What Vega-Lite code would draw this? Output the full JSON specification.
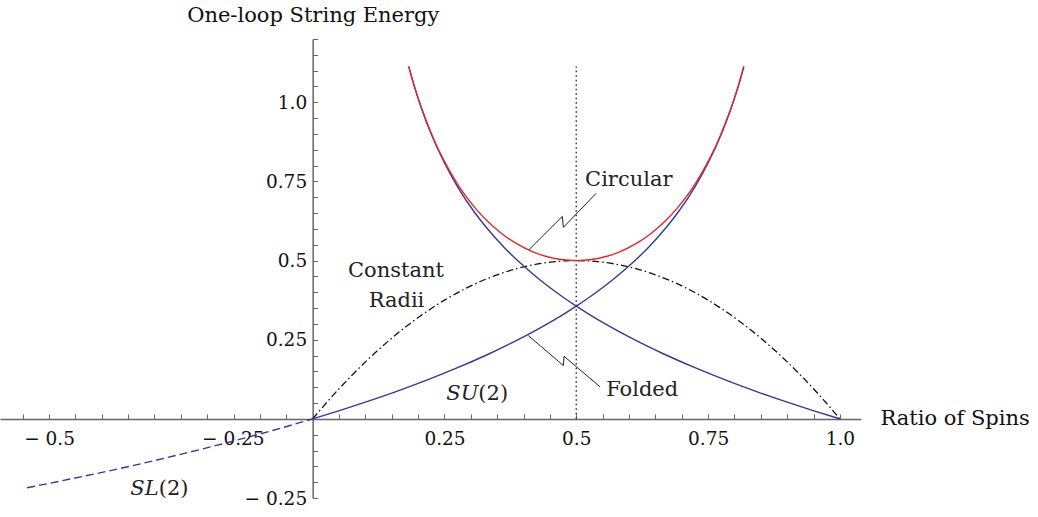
{
  "$schema": "https://vega.github.io/schema/vega-lite/v6.json",
  "width": 861,
  "height": 459,
  "autosize": {"type": "none"},
  "padding": {"left": 0, "top": 39, "right": 177, "bottom": 19},
  "background": "white",
  "config": {"view": {"stroke": null}},
  "datasets": {
    "folded": [
      {"branch": "a", "x": 0, "y": 0},
      {"branch": "a", "x": 0.0507, "y": 0.026},
      {"branch": "a", "x": 0.1028, "y": 0.0543},
      {"branch": "a", "x": 0.1567, "y": 0.0853},
      {"branch": "a", "x": 0.2127, "y": 0.1199},
      {"branch": "a", "x": 0.2715, "y": 0.1592},
      {"branch": "a", "x": 0.334, "y": 0.2049},
      {"branch": "a", "x": 0.3671, "y": 0.2311},
      {"branch": "a", "x": 0.4017, "y": 0.2603},
      {"branch": "a", "x": 0.4384, "y": 0.2936},
      {"branch": "a", "x": 0.4779, "y": 0.3326},
      {"branch": "a", "x": 0.5, "y": 0.356},
      {"branch": "a", "x": 0.5214, "y": 0.3801},
      {"branch": "a", "x": 0.5715, "y": 0.4425},
      {"branch": "a", "x": 0.6072, "y": 0.4937},
      {"branch": "a", "x": 0.6354, "y": 0.5393},
      {"branch": "a", "x": 0.6705, "y": 0.6045},
      {"branch": "a", "x": 0.6934, "y": 0.6534},
      {"branch": "a", "x": 0.7251, "y": 0.7331},
      {"branch": "a", "x": 0.7502, "y": 0.8092},
      {"branch": "a", "x": 0.7767, "y": 0.9064},
      {"branch": "a", "x": 0.793, "y": 0.9784},
      {"branch": "a", "x": 0.807, "y": 1.0497},
      {"branch": "a", "x": 0.8177, "y": 1.113},
      {"branch": "b", "x": 0.1823, "y": 1.113},
      {"branch": "b", "x": 0.193, "y": 1.0497},
      {"branch": "b", "x": 0.207, "y": 0.9784},
      {"branch": "b", "x": 0.2233, "y": 0.9064},
      {"branch": "b", "x": 0.2498, "y": 0.8092},
      {"branch": "b", "x": 0.2749, "y": 0.7331},
      {"branch": "b", "x": 0.3066, "y": 0.6534},
      {"branch": "b", "x": 0.3295, "y": 0.6045},
      {"branch": "b", "x": 0.3646, "y": 0.5393},
      {"branch": "b", "x": 0.3928, "y": 0.4937},
      {"branch": "b", "x": 0.4285, "y": 0.4425},
      {"branch": "b", "x": 0.4786, "y": 0.3801},
      {"branch": "b", "x": 0.5, "y": 0.356},
      {"branch": "b", "x": 0.5221, "y": 0.3326},
      {"branch": "b", "x": 0.5616, "y": 0.2936},
      {"branch": "b", "x": 0.5983, "y": 0.2603},
      {"branch": "b", "x": 0.6329, "y": 0.2311},
      {"branch": "b", "x": 0.666, "y": 0.2049},
      {"branch": "b", "x": 0.7285, "y": 0.1592},
      {"branch": "b", "x": 0.7873, "y": 0.1199},
      {"branch": "b", "x": 0.8433, "y": 0.0853},
      {"branch": "b", "x": 0.8972, "y": 0.0543},
      {"branch": "b", "x": 0.9493, "y": 0.026},
      {"branch": "b", "x": 1, "y": 0}
    ],
    "circular": [
      {"x": 0.1823, "y": 1.113},
      {"x": 0.1852, "y": 1.0944},
      {"x": 0.1988, "y": 1.0196},
      {"x": 0.2172, "y": 0.9336},
      {"x": 0.2328, "y": 0.8716},
      {"x": 0.2469, "y": 0.8229},
      {"x": 0.2724, "y": 0.748},
      {"x": 0.2844, "y": 0.7178},
      {"x": 0.308, "y": 0.6666},
      {"x": 0.3318, "y": 0.624},
      {"x": 0.3442, "y": 0.605},
      {"x": 0.357, "y": 0.5873},
      {"x": 0.3851, "y": 0.555},
      {"x": 0.4199, "y": 0.5262},
      {"x": 0.4437, "y": 0.5128},
      {"x": 0.475, "y": 0.5025},
      {"x": 0.5, "y": 0.5},
      {"x": 0.525, "y": 0.5025},
      {"x": 0.5563, "y": 0.5128},
      {"x": 0.5801, "y": 0.5262},
      {"x": 0.6149, "y": 0.555},
      {"x": 0.643, "y": 0.5873},
      {"x": 0.6558, "y": 0.605},
      {"x": 0.6682, "y": 0.624},
      {"x": 0.692, "y": 0.6666},
      {"x": 0.7156, "y": 0.7178},
      {"x": 0.7276, "y": 0.748},
      {"x": 0.7531, "y": 0.8229},
      {"x": 0.7672, "y": 0.8716},
      {"x": 0.7828, "y": 0.9336},
      {"x": 0.8012, "y": 1.0196},
      {"x": 0.8148, "y": 1.0944},
      {"x": 0.8177, "y": 1.113}
    ],
    "radii": [
      {"x": 0, "y": 0},
      {"x": 0.05, "y": 0.095},
      {"x": 0.1, "y": 0.18},
      {"x": 0.15, "y": 0.255},
      {"x": 0.2, "y": 0.32},
      {"x": 0.25, "y": 0.375},
      {"x": 0.3, "y": 0.42},
      {"x": 0.35, "y": 0.455},
      {"x": 0.4, "y": 0.48},
      {"x": 0.45, "y": 0.495},
      {"x": 0.5, "y": 0.5},
      {"x": 0.55, "y": 0.495},
      {"x": 0.6, "y": 0.48},
      {"x": 0.65, "y": 0.455},
      {"x": 0.7, "y": 0.42},
      {"x": 0.75, "y": 0.375},
      {"x": 0.8, "y": 0.32},
      {"x": 0.85, "y": 0.255},
      {"x": 0.9, "y": 0.18},
      {"x": 0.95, "y": 0.095},
      {"x": 1, "y": 0}
    ],
    "sl2": [
      {"x": -0.5416, "y": -0.2177},
      {"x": -0.457, "y": -0.1892},
      {"x": -0.3483, "y": -0.1504},
      {"x": -0.2374, "y": -0.1067},
      {"x": -0.1215, "y": -0.0574},
      {"x": -0.0494, "y": -0.0241},
      {"x": 0, "y": 0}
    ],
    "halfway": [
      {"x": 0.5, "y": 0, "y2": 1.113}
    ],
    "leaders": [
      {"id": "circular", "k": 1, "x": 0.4104, "y": 0.5346},
      {"id": "circular", "k": 2, "x": 0.4736, "y": 0.6397},
      {"id": "circular", "k": 3, "x": 0.4755, "y": 0.605},
      {"id": "circular", "k": 4, "x": 0.5376, "y": 0.7125},
      {"id": "folded", "k": 1, "x": 0.4091, "y": 0.263},
      {"id": "folded", "k": 2, "x": 0.4756, "y": 0.1683},
      {"id": "folded", "k": 3, "x": 0.4768, "y": 0.1977},
      {"id": "folded", "k": 4, "x": 0.5452, "y": 0.101}
    ],
    "centered": [
      {"label": "Constant", "x": 0.158, "y": 0.4484},
      {"label": "Radii", "x": 0.159, "y": 0.3537}
    ],
    "leftText": [
      {"label": "Circular", "x": 0.5167, "y": 0.7345},
      {"label": "Folded", "x": 0.5566, "y": 0.0714},
      {"label": "(2)", "x": 0.3143, "y": 0.0587},
      {"label": "(2)", "x": -0.292, "y": -0.239}
    ],
    "italicText": [
      {"label": "SU", "x": 0.3143, "y": 0.0587},
      {"label": "SL", "x": -0.292, "y": -0.239}
    ]
  },
  "encoding": {
    "x": {
      "field": "x",
      "type": "quantitative",
      "scale": {"domain": [-0.593, 1.04], "nice": false, "zero": false},
      "axis": {
        "orient": "bottom",
        "offset": -79.1,
        "values": [-0.55, -0.5, -0.45, -0.4, -0.35, -0.3, -0.25, -0.2, -0.15, -0.1, -0.05, 0.05, 0.1, 0.15, 0.2, 0.25, 0.3, 0.35, 0.4, 0.45, 0.5, 0.55, 0.6, 0.65, 0.7, 0.75, 0.8, 0.85, 0.9, 0.95, 1],
        "labelExpr": "datum.value == 1 ? '1.0' : (abs(datum.value * 4 - round(datum.value * 4)) < 0.001 ? (datum.value < 0 ? '− ' : '') + format(abs(datum.value), '~g') : '')",
        "labelOffset": {"condition": {"test": "datum.value == -0.25", "value": 52}, "value": 0},
        "grid": false,
        "tickSize": -5,
        "tickColor": "#666",
        "tickWidth": 1,
        "domainColor": "#666",
        "domainWidth": 1.5,
        "labelFont": "DejaVu Serif",
        "labelFontSize": 18.5,
        "labelColor": "#111",
        "labelPadding": 16,
        "labelFlush": false,
        "labelOverlap": false,
        "title": "Ratio of Spins",
        "titleFont": "DejaVu Serif",
        "titleFontSize": 21,
        "titleFontWeight": "normal",
        "titleColor": "#111",
        "titleAngle": 0,
        "titleAlign": "left",
        "titleBaseline": "middle",
        "titleX": 880,
        "titleY": 0
      }
    },
    "y": {
      "field": "y",
      "type": "quantitative",
      "scale": {"domain": [-0.25, 1.2], "nice": false, "zero": false},
      "axis": {
        "orient": "left",
        "offset": -312.66,
        "values": [-0.25, -0.2, -0.15, -0.1, -0.05, 0.05, 0.1, 0.15, 0.2, 0.25, 0.3, 0.35, 0.4, 0.45, 0.5, 0.55, 0.6, 0.65, 0.7, 0.75, 0.8, 0.85, 0.9, 0.95, 1, 1.05, 1.1, 1.15, 1.2],
        "labelExpr": "datum.value == 1 ? '1.0' : (abs(datum.value * 4 - round(datum.value * 4)) < 0.001 ? (datum.value < 0 ? '− ' : '') + format(abs(datum.value), '~g') : '')",
        "grid": false,
        "tickSize": -5,
        "tickColor": "#666",
        "tickWidth": 1,
        "domainColor": "#666",
        "domainWidth": 1.5,
        "labelFont": "DejaVu Serif",
        "labelFontSize": 18.5,
        "labelColor": "#111",
        "labelPadding": 11,
        "labelFlush": false,
        "labelOverlap": false,
        "title": "One-loop String Energy",
        "titleFont": "DejaVu Serif",
        "titleFontSize": 21,
        "titleFontWeight": "normal",
        "titleColor": "#111",
        "titleAngle": 0,
        "titleAlign": "left",
        "titleBaseline": "middle",
        "titleX": -126,
        "titleY": -24
      }
    }
  },
  "layer": [
    {
      "data": {"name": "radii"},
      "mark": {"type": "line", "color": "#111", "strokeWidth": 1.3, "strokeDash": [7, 3, 1.5, 3], "interpolate": "monotone"}
    },
    {
      "data": {"name": "halfway"},
      "mark": {"type": "rule", "color": "#333", "strokeWidth": 1.5, "strokeDash": [1.5, 3]},
      "encoding": {"y2": {"field": "y2"}}
    },
    {
      "data": {"name": "folded"},
      "mark": {"type": "line", "color": "#2f3b9a", "strokeWidth": 1.4, "interpolate": "monotone"},
      "encoding": {"detail": {"field": "branch", "type": "nominal"}}
    },
    {
      "data": {"name": "sl2"},
      "mark": {"type": "line", "color": "#2f3b9a", "strokeWidth": 1.4, "strokeDash": [8, 4], "interpolate": "monotone"}
    },
    {
      "data": {"name": "circular"},
      "mark": {"type": "line", "color": "#e5262b", "strokeWidth": 1.4, "interpolate": "monotone"}
    },
    {
      "data": {"name": "leaders"},
      "mark": {"type": "line", "color": "#222", "strokeWidth": 1},
      "encoding": {
        "detail": {"field": "id", "type": "nominal"},
        "order": {"field": "k", "type": "quantitative"}
      }
    },
    {
      "data": {"name": "centered"},
      "mark": {"type": "text", "font": "DejaVu Serif", "fontSize": 21, "color": "#222", "align": "center", "baseline": "alphabetic"},
      "encoding": {"text": {"field": "label"}}
    },
    {
      "data": {"name": "leftText"},
      "mark": {"type": "text", "font": "DejaVu Serif", "fontSize": 21, "color": "#222", "align": "left", "baseline": "alphabetic"},
      "encoding": {"text": {"field": "label"}}
    },
    {
      "data": {"name": "italicText"},
      "mark": {"type": "text", "font": "DejaVu Serif", "fontSize": 21, "fontStyle": "italic", "color": "#222", "align": "right", "baseline": "alphabetic"},
      "encoding": {"text": {"field": "label"}}
    }
  ]
}
